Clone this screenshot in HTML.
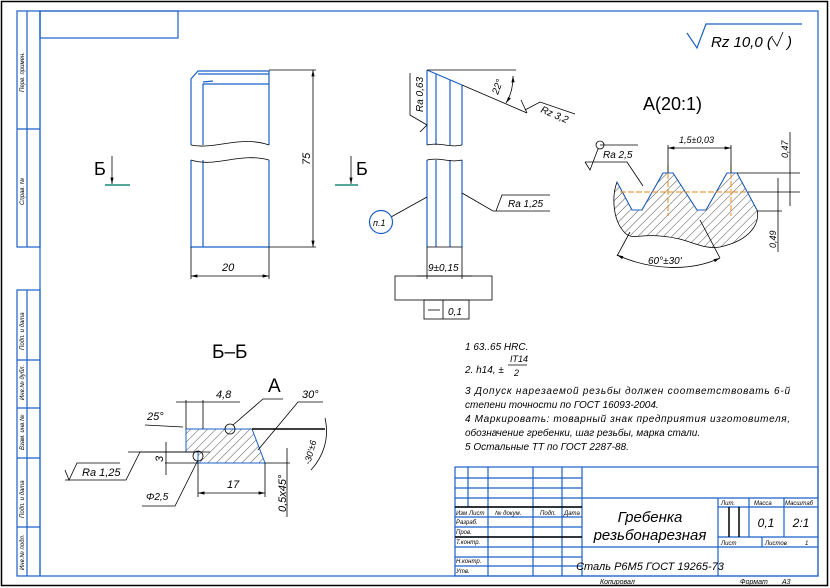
<!DOCTYPE html>
<html><head><meta charset="utf-8"><style>
html,body{margin:0;padding:0;background:#fff;}
svg{display:block;font-family:"Liberation Sans","DejaVu Sans",sans-serif;}
.b{stroke:#1a5fc8;fill:none;stroke-width:1.2}
.k{stroke:#000;fill:none;stroke-width:0.8}
.t{font-style:italic;fill:#000;}
</style></head><body>
<svg width="830" height="588" viewBox="0 0 830 588" xmlns="http://www.w3.org/2000/svg">
<defs>
<pattern id="h" width="6" height="6" patternUnits="userSpaceOnUse" patternTransform="rotate(45)">
<line x1="0" y1="0" x2="0" y2="6" stroke="#000" stroke-width="0.7"/></pattern>
<marker id="a" markerWidth="8" markerHeight="6" refX="8" refY="3" orient="auto-start-reverse"><path d="M0,1 L8,3 L0,5z" fill="#000"/></marker>
</defs>
<rect x="1.5" y="1.5" width="826" height="584" fill="none" stroke="#000" stroke-width="1.5"/>
<rect x="40" y="11" width="778" height="565" class="b"/>
<rect x="40" y="11" width="138" height="27" class="b"/>
<rect x="17" y="11" width="23" height="236" class="b"/>
<line x1="27" y1="11" x2="27" y2="247" class="b"/>
<line x1="17" y1="129" x2="40" y2="129" class="b"/>
<rect x="17" y="290" width="23" height="286" class="b"/>
<line x1="27" y1="290" x2="27" y2="576" class="b"/>
<g class="b"><line x1="17" y1="360" x2="40" y2="360"/><line x1="17" y1="408" x2="40" y2="408"/><line x1="17" y1="458" x2="40" y2="458"/><line x1="17" y1="527" x2="40" y2="527"/></g>
<g class="t" font-size="6">
<text transform="translate(24,92) rotate(-90)">Перв. примен.</text>
<text transform="translate(24,205) rotate(-90)">Справ. №</text>
<text transform="translate(24,350) rotate(-90)">Подп. и дата</text>
<text transform="translate(24,400) rotate(-90)">Инв.№ дубл.</text>
<text transform="translate(24,450) rotate(-90)">Взам. инв.№</text>
<text transform="translate(24,518) rotate(-90)">Подп. и дата</text>
<text transform="translate(24,570) rotate(-90)">Инв.№ подл.</text>
</g>
<path d="M687,33 L697,48 L706,24 L802,24" class="b"/>
<text x="711" y="47" class="t" font-size="15">Rz 10,0 (</text>
<path d="M772,38 L777,46 L783,32" class="k"/>
<text x="787" y="47" class="t" font-size="15">)</text>
<!-- front view -->
<path d="M191,145 L191,79 L198,71 L269,71 L269,145" class="b"/>
<path d="M203,145 L203,84 L269,84 M198,74 L269,74 M203,82 L213,81" class="b"/>
<path d="M191,160 L191,247 L269,247 L269,160 M203,160 L203,247" class="b"/>
<path d="M191,145 C215,150 240,135 269,145 M191,160 C215,168 240,152 269,160" class="k"/>
<path d="M269,70 L316,70 M269,247 L316,247" class="k"/>
<line x1="313" y1="70" x2="313" y2="247" class="k" marker-start="url(#a)" marker-end="url(#a)"/>
<text transform="translate(310,165) rotate(-90)" class="t" font-size="11">75</text>
<path d="M191,247 L191,279 M269,247 L269,279" class="k"/>
<line x1="191" y1="276" x2="269" y2="276" class="k" marker-start="url(#a)" marker-end="url(#a)"/>
<text x="222" y="271" class="t" font-size="11">20</text>
<text x="94" y="175" font-size="18">Б</text>
<line x1="112" y1="156" x2="112" y2="184" class="k" marker-end="url(#a)"/>
<line x1="105" y1="185" x2="130" y2="185" stroke="#1a8a7a" stroke-width="1.5"/>
<text x="356" y="175" font-size="18">Б</text>
<line x1="351" y1="156" x2="351" y2="184" class="k" marker-end="url(#a)"/>
<line x1="335" y1="185" x2="358" y2="185" stroke="#1a8a7a" stroke-width="1.5"/>
<!-- side view -->
<path d="M427,145 L427,70 M436,145 L436,74 M450,145 L450,80 M462,145 L462,85 M427,70 L462,85" class="b"/>
<path d="M427,160 L427,247 M436,160 L436,247 M450,160 L450,247 M462,160 L462,247" class="b"/>
<path d="M427,145 C440,142 450,148 462,145 M427,160 C440,157 450,163 462,160 M427,70 L516,70 M462,85 L527,113 M427,247 L462,247" class="k"/>
<path d="M513,76 C513,88 510,97 506,103" class="k" marker-start="url(#a)" marker-end="url(#a)"/>
<text transform="translate(498,95) rotate(-70)" class="t" font-size="10">22°</text>
<path d="M527,113 L521,100 M525,110 L540,102 L575,114" class="k"/>
<text transform="translate(540,112) rotate(23)" class="t" font-size="10">Rz 3,2</text>
<path d="M427,125 L410,115 L410,73 M420,132 L427,125" class="k"/>
<text transform="translate(423,112) rotate(-90)" class="t" font-size="10">Ra 0,63</text>
<path d="M462,193 L493,211 L550,211 M496,211 L502,195 L550,195" class="k" />
<text x="508" y="207" class="t" font-size="10">Ra 1,25</text>
<path d="M427,197 L391,217" class="k"/>
<circle cx="381" cy="222" r="11.5" class="b"/>
<text x="373" y="226" class="t" font-size="9">п.1</text>
<path d="M427,247 L427,279 M462,247 L462,279" class="k"/>
<line x1="417" y1="276" x2="472" y2="276" class="k"/>
<text x="428" y="271" class="t" font-size="10">9±0,15</text>
<rect x="395" y="276" width="97" height="24" class="k"/>
<rect x="424" y="300" width="45" height="19" class="k"/>
<line x1="443" y1="300" x2="443" y2="319" class="k"/>
<line x1="428" y1="310" x2="440" y2="310" class="k"/>
<text x="448" y="315" class="t" font-size="10">0,1</text>
<!-- detail A -->
<text x="643" y="110" font-size="18">A(20:1)</text>
<path d="M617,182 L632,210 L642,210 L663,173 L673,173 L697,210 L706,210 L727,173 L737,173 L757,210 C760,222 752,240 720,247 C700,250 690,238 660,236 C640,234 632,240 625,233 C612,220 612,195 617,182Z" fill="url(#h)" stroke="#000" stroke-width="0.8"/>
<path d="M617,182 L632,210 L642,210 L663,173 L673,173 L697,210 L706,210 L727,173 L737,173 L757,210" fill="none" stroke="#1a5fc8" stroke-width="1"/>
<path d="M620,192 L748,192 M668,165 L668,216 M731,165 L731,216" stroke="#e08a1a" stroke-width="1" stroke-dasharray="6,2" fill="none"/>
<path d="M668,173 L668,145 M731,173 L731,145 M737,173 L800,173 M748,192 L800,192 M757,211 L782,211" class="k"/>
<line x1="668" y1="148" x2="731" y2="148" class="k" marker-start="url(#a)" marker-end="url(#a)"/>
<text x="679" y="143" class="t" font-size="9">1,5±0,03</text>
<line x1="790" y1="132" x2="790" y2="206" class="k"/>
<text transform="translate(788,158) rotate(-90)" class="t" font-size="9">0,47</text>
<line x1="778" y1="178" x2="778" y2="252" class="k"/>
<text transform="translate(776,248) rotate(-90)" class="t" font-size="9">0,49</text>
<path d="M643,186 L627,162 L585,162 M585,162 L590,170 L598,149" class="k"/>
<circle cx="600" cy="145" r="4" class="k"/>
<line x1="600" y1="145" x2="638" y2="145" class="k"/>
<text x="603" y="158" class="t" font-size="10">Ra 2,5</text>
<path d="M617,255 C650,270 690,272 720,258" class="k" marker-start="url(#a)" marker-end="url(#a)"/>
<path d="M617,256 L630,232 M720,258 L700,220" class="k"/>
<text x="648" y="264" class="t" font-size="10">60°±30'</text>
<!-- section Б-Б -->
<text x="212" y="358" font-size="19">Б–Б</text>
<text x="268" y="392" font-size="19">A</text>
<path d="M186,429 L252,429 L265,463 L198,463 L198,452 L186,452Z" fill="url(#h)" stroke="#1a5fc8" stroke-width="1"/>
<path d="M252,429 L325,429" stroke="#000" stroke-width="1.5"/>
<circle cx="230" cy="429" r="5" class="k"/><circle cx="198" cy="456" r="5" class="k"/>
<path d="M186,429 L186,400 M203,429 L203,400" class="k"/>
<line x1="176" y1="402" x2="240" y2="402" class="k"/>
<text x="216" y="398" class="t" font-size="11">4,8</text>
<path d="M233,425 L263,399 L283,399 M258,450 L298,402 L323,402 M145,425 L183,427" class="k"/>
<text x="302" y="398" class="t" font-size="11">30°</text>
<text x="147" y="420" class="t" font-size="11">25°</text>
<path d="M128,452 L210,452 M165,463 L198,463 M166,442 L166,475 M265,463 L290,463" class="k"/>
<text transform="translate(163,462) rotate(-90)" class="t" font-size="11">3</text>
<path d="M198,463 L198,497 M265,463 L265,497" class="k"/>
<line x1="198" y1="493" x2="265" y2="493" class="k" marker-start="url(#a)" marker-end="url(#a)"/>
<text x="227" y="488" class="t" font-size="11">17</text>
<line x1="287" y1="448" x2="287" y2="517" class="k"/>
<text transform="translate(286,512) rotate(-90)" class="t" font-size="11">0,5x45°</text>
<path d="M325,418 C330,440 322,458 311,470" class="k"/>
<text transform="translate(310,465) rotate(-75)" class="t" font-size="9">-30'±6</text>
<path d="M65,480 L126,480 L140,452 L195,452 M65,470 L69,480 L77,463 L120,463" class="k"/>
<text x="82" y="476" class="t" font-size="11">Ra 1,25</text>
<path d="M142,506 L175,506 L198,460" class="k"/>
<text x="146" y="500" class="t" font-size="10">Φ2,5</text>
<g class="t" font-size="10">
<text x="465" y="350">1 63..65 HRC.</text>
<text x="465" y="373">2. h14, ±</text>
<text x="510" y="362" font-size="9">IT14</text>
<line x1="508" y1="365" x2="527" y2="365" class="k"/>
<text x="514" y="376" font-size="9">2</text>
<text x="465" y="394" textLength="325">3 Допуск нарезаемой резьбы должен соответствовать 6-й</text>
<text x="465" y="408">степени точности по ГОСТ 16093-2004.</text>
<text x="465" y="422" textLength="325">4 Маркировать: товарный знак предприятия изготовителя,</text>
<text x="465" y="436">обозначение гребенки, шаг резьбы, марка стали.</text>
<text x="465" y="450">5 Остальные ТТ по ГОСТ 2287-88.</text>
</g>
<g class="b">
<rect x="455" y="467" width="363" height="109"/>
<line x1="468" y1="467" x2="468" y2="507"/><line x1="488" y1="467" x2="488" y2="576"/>
<line x1="533" y1="467" x2="533" y2="576"/><line x1="562" y1="467" x2="562" y2="576"/>
<line x1="582" y1="467" x2="582" y2="576"/>
<line x1="455" y1="478" x2="582" y2="478"/><line x1="455" y1="488" x2="582" y2="488"/>
<line x1="455" y1="498" x2="818" y2="498"/><line x1="455" y1="507" x2="582" y2="507"/>
<line x1="455" y1="517" x2="582" y2="517"/><line x1="455" y1="527" x2="582" y2="527"/>
<line x1="455" y1="537" x2="582" y2="537"/><line x1="455" y1="547" x2="818" y2="547"/>
<line x1="455" y1="557" x2="582" y2="557"/><line x1="455" y1="566" x2="582" y2="566"/>
<line x1="718" y1="498" x2="718" y2="576"/><line x1="749" y1="498" x2="749" y2="537"/>
<line x1="784" y1="498" x2="784" y2="537"/><line x1="718" y1="507" x2="818" y2="507"/>
<line x1="718" y1="537" x2="818" y2="537"/><line x1="762" y1="537" x2="762" y2="547"/>
</g>
<path d="M729,507 L729,537 M739,507 L739,537 M455,507 L582,507 M455,537 L582,537" stroke="#000" stroke-width="1.5"/>
<g class="t" font-size="6">
<text x="456" y="515">Изм</text><text x="469" y="515">Лист</text><text x="495" y="515">№ докум.</text><text x="540" y="515">Подп.</text><text x="564" y="515">Дата</text>
<text x="456" y="524">Разраб.</text><text x="456" y="534">Пров.</text><text x="456" y="544">Т.контр.</text>
<text x="456" y="563">Н.контр.</text><text x="456" y="573">Утв.</text>
<text x="721" y="505">Лит.</text><text x="754" y="505">Масса</text><text x="785" y="505">Масштаб</text>
<text x="721" y="545">Лист</text><text x="765" y="545">Листов</text><text x="805" y="545">1</text>
</g>
<text x="650" y="522" class="t" font-size="15" text-anchor="middle">Гребенка</text>
<text x="650" y="540" class="t" font-size="15" text-anchor="middle">резьбонарезная</text>
<text x="650" y="570" class="t" font-size="11" text-anchor="middle">Сталь Р6М5 ГОСТ 19265-73</text>
<text x="766" y="527" class="t" font-size="12" text-anchor="middle">0,1</text>
<text x="801" y="527" class="t" font-size="12" text-anchor="middle">2:1</text>
<text x="600" y="584" class="t" font-size="7">Копировал</text>
<text x="740" y="584" class="t" font-size="7">Формат</text>
<text x="782" y="584" class="t" font-size="7">A3</text>
</svg>
</body></html>
